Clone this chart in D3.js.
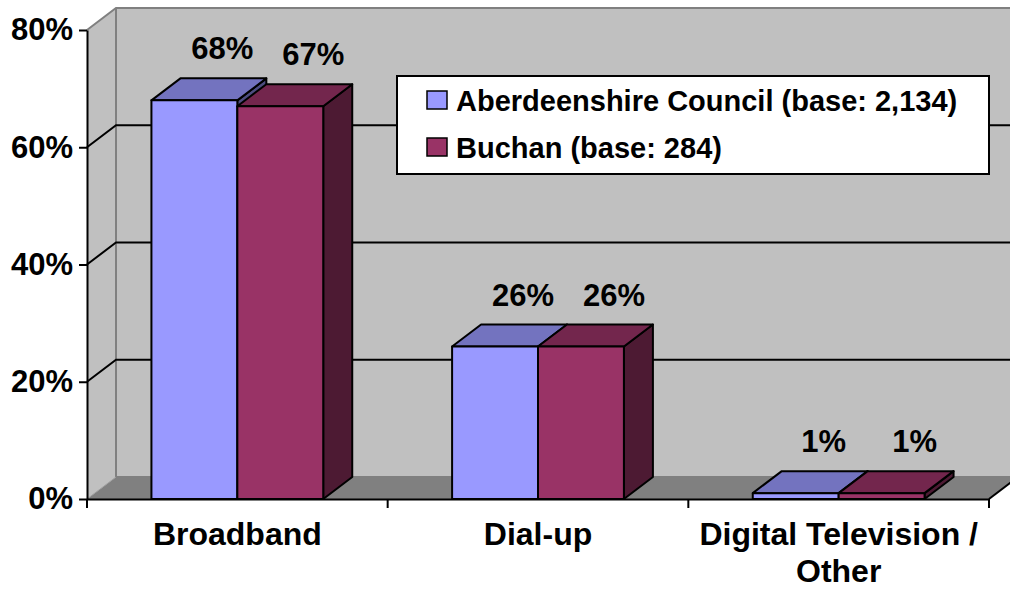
<!DOCTYPE html>
<html>
<head>
<meta charset="utf-8">
<script src="https://cdn.jsdelivr.net/npm/d3@7"></script>
<style>
  body { margin: 0; background: #fff; }
  svg text { font-family: Arial, "Liberation Sans", sans-serif; font-weight: bold; fill: #000; }
</style>
</head>
<body>
<svg id="chart" width="1010" height="589"></svg>
<script>
// chart data
var categories = ["Broadband", "Dial-up", "Digital Television / Other"];
var seriesNames = ["Aberdeenshire Council (base: 2,134)", "Buchan (base: 284)"];
var aberdeenshire = [0.68, 0.26, 0.01];
var buchan = [0.67, 0.26, 0.01];
var yTicks = [0, 0.2, 0.4, 0.6, 0.8];

var colors = [
	{ front: "#9999FF", top: "#7373BF", side: "#4D4D80" },
	{ front: "#993366", top: "#73264D", side: "#4D1A33" }
];

var svg = d3.select("#chart");
var W = 1010;

// plot box (front plane) and depth offset for the 3d look
var pLeft = 87, pRight = 989, pTop = 30, pBottom = 499;
var dx = 29, dy = -22;

var x = d3.scaleBand().domain(categories).range([pLeft, pRight]).padding(0);
var xs = d3.scaleBand().domain(seriesNames).range([0, x.bandwidth()])
	.paddingInner(0).paddingOuter(0.75);
var y = d3.scaleLinear().domain([0, 0.8]).range([pBottom, pTop]);

function poly(pts) {
	return "M" + pts.map(function(p) { return p[0] + "," + p[1]; }).join("L") + "Z";
}

// back wall
svg.append("path")
	.attr("d", poly([[pLeft + dx, pTop + dy], [W + 10, pTop + dy], [W + 10, pBottom + dy], [pLeft + dx, pBottom + dy]]))
	.attr("fill", "#C0C0C0");
// left wall
svg.append("path")
	.attr("d", poly([[pLeft, pTop], [pLeft + dx, pTop + dy], [pLeft + dx, pBottom + dy], [pLeft, pBottom]]))
	.attr("fill", "#C0C0C0");
// floor
svg.append("path")
	.attr("d", poly([[pLeft, pBottom], [pRight, pBottom], [pRight + dx, pBottom + dy], [pLeft + dx, pBottom + dy]]))
	.attr("fill", "#808080");

// wall edges
var edges = svg.append("g").attr("stroke", "#808080").attr("stroke-width", 2).attr("fill", "none");
edges.append("path").attr("d", "M" + pLeft + "," + pTop + "L" + (pLeft + dx) + "," + (pTop + dy) + "L" + (W + 10) + "," + (pTop + dy));
edges.append("path").attr("d", "M" + (pLeft + dx) + "," + (pTop + dy) + "L" + (pLeft + dx) + "," + (pBottom + dy) + "L" + (W + 10) + "," + (pBottom + dy));
edges.append("path").attr("d", "M" + pLeft + "," + pBottom + "L" + (pLeft + dx) + "," + (pBottom + dy)).attr("stroke", "#A0A0A0").attr("stroke-width", 1);

// gridlines on the walls
var grid = svg.append("g").attr("stroke", "#000").attr("stroke-width", 2).attr("fill", "none");
grid.selectAll("path")
	.data(yTicks.filter(function(t) { return t > 0 && t < 0.8; }))
	.enter()
		.append("path")
		.attr("d", function(t) {
			return "M" + pLeft + "," + y(t) + "L" + (pLeft + dx) + "," + (y(t) + dy) + "L" + (W + 10) + "," + (y(t) + dy);
		});

// legend (sits on the back wall, behind the bars)
var legend = svg.append("g").attr("transform", "translate(397,76)");
legend.append("rect")
	.attr("width", 592).attr("height", 98)
	.attr("fill", "#fff").attr("stroke", "#000").attr("stroke-width", 2);
seriesNames.forEach(function(name, i) {
	var row = legend.append("g").attr("transform", "translate(30," + (15 + i * 47) + ")");
	row.append("rect")
		.attr("width", 20).attr("height", 18)
		.attr("fill", colors[i].front).attr("stroke", "#000").attr("stroke-width", 1.5);
	row.append("text")
		.attr("x", 29).attr("y", 19.5)
		.style("font-size", "29px")
		.text(name);
});

// bars
var series = [aberdeenshire, buchan];
var bars = svg.append("g").attr("stroke", "#000").attr("stroke-width", 2).attr("stroke-linejoin", "round");
categories.forEach(function(cat, ci) {
	series.forEach(function(vals, si) {
		var x0 = x(cat) + xs(seriesNames[si]);
		var x1 = x0 + xs.bandwidth();
		var y0 = y(0), y1 = y(vals[ci]);
		var g = bars.append("g");
		g.append("path").attr("fill", colors[si].side)
			.attr("d", poly([[x1, y1], [x1 + dx, y1 + dy], [x1 + dx, y0 + dy], [x1, y0]]));
		g.append("path").attr("fill", colors[si].top)
			.attr("d", poly([[x0, y1], [x0 + dx, y1 + dy], [x1 + dx, y1 + dy], [x1, y1]]));
		g.append("path").attr("fill", colors[si].front)
			.attr("d", poly([[x0, y1], [x1, y1], [x1, y0], [x0, y0]]));
	});
});

// data labels
var labelShift = [-1, 4];
categories.forEach(function(cat, ci) {
	series.forEach(function(vals, si) {
		var cx = x(cat) + xs(seriesNames[si]) + xs.bandwidth() / 2 + dx + labelShift[si];
		svg.append("text")
			.attr("x", cx)
			.attr("y", y(vals[ci]) + dy - 19)
			.attr("text-anchor", "middle")
			.style("font-size", "31px")
			.text(d3.format(".0%")(vals[ci]));
	});
});

// y axis
var yAxis = svg.append("g")
	.attr("transform", "translate(" + pLeft + ",0)")
	.call(d3.axisLeft(y).tickValues(yTicks).tickFormat(d3.format(".0%")).tickSize(8).tickSizeOuter(0).tickPadding(6));
yAxis.selectAll("line, path").attr("stroke", "#000").attr("stroke-width", 2);
yAxis.selectAll("text").style("font-size", "31px").attr("fill", "#000");

// x axis: line and category boundary ticks
var xAxis = svg.append("g")
	.attr("transform", "translate(0," + pBottom + ")")
	.call(d3.axisBottom(x).tickSize(0).tickSizeOuter(0).tickPadding(23));
xAxis.select(".domain").attr("stroke", "#000").attr("stroke-width", 2);
xAxis.selectAll("text").style("font-size", "32px").attr("fill", "#000").call(wrap, x.bandwidth() - 4);
var bounds = categories.map(function(c) { return x(c); }).concat([pRight]);
xAxis.selectAll("line.bound")
	.data(bounds)
	.enter()
		.append("line")
		.attr("class", "bound")
		.attr("x1", function(d) { return d; }).attr("x2", function(d) { return d; })
		.attr("y1", 0).attr("y2", 9)
		.attr("stroke", "#000").attr("stroke-width", 2);
// right floor edge
svg.append("path")
	.attr("d", "M" + pRight + "," + pBottom + "L" + (pRight + dx) + "," + (pBottom + dy))
	.attr("stroke", "#000").attr("stroke-width", 2);

function wrap(text, width) {
	text.each(function() {
		var t = d3.select(this);
		var words = t.text().split(/\s+/).reverse();
		var line = [], lineNo = 0, word;
		var yy = t.attr("y"), dyy = parseFloat(t.attr("dy"));
		var tspan = t.text(null).append("tspan").attr("x", 0).attr("y", yy).attr("dy", dyy + "em");
		while ((word = words.pop())) {
			line.push(word);
			tspan.text(line.join(" "));
			if (tspan.node().getComputedTextLength() > width && line.length > 1) {
				line.pop();
				tspan.text(line.join(" "));
				line = [word];
				tspan = t.append("tspan").attr("x", 0).attr("y", yy)
					.attr("dy", (++lineNo * 1.16 + dyy) + "em").text(word);
			}
		}
	});
}
</script>
</body>
</html>
